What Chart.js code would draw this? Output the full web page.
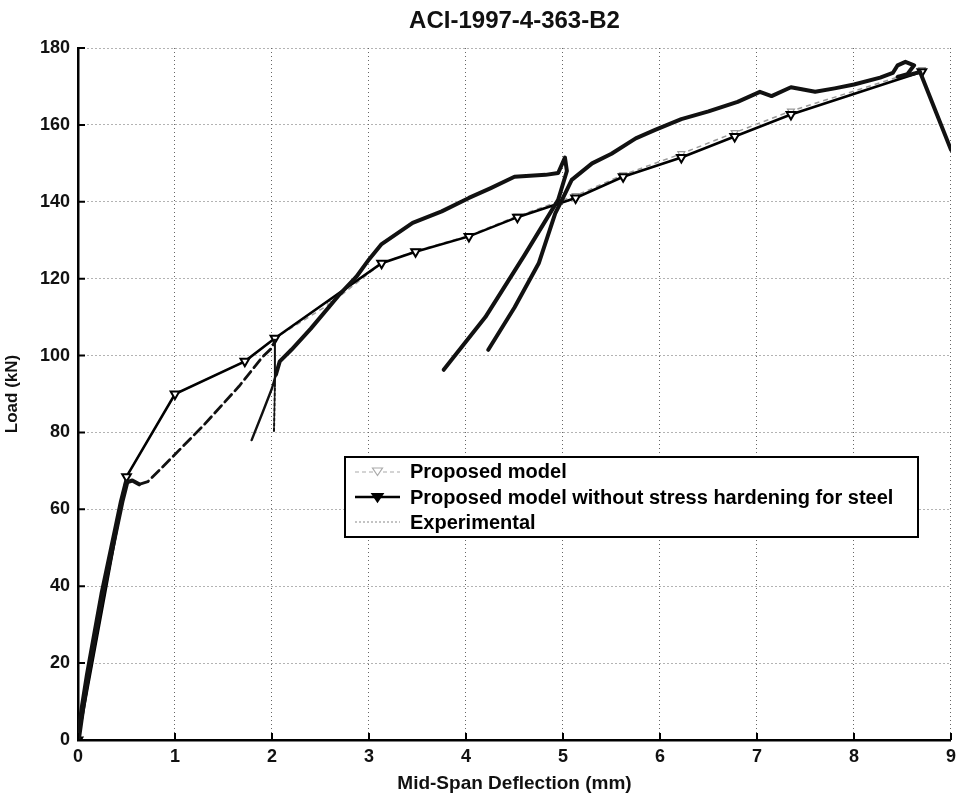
<!DOCTYPE html>
<html>
<head>
<meta charset="utf-8">
<title>ACI-1997-4-363-B2</title>
<script src="https://cdn.jsdelivr.net/npm/chart.js@4.4.1/dist/chart.umd.min.js"></script>
<style>
  html, body { margin: 0; padding: 0; background: #ffffff; }
  #wrap { width: 962px; height: 798px; position: relative; }
</style>
</head>
<body>
<div id="wrap"><canvas id="chart"></canvas></div>
<script>
// Axis ticks
const xTickValues = [0, 1, 2, 3, 4, 5, 6, 7, 8, 9];
const yTickValues = [0, 20, 40, 60, 80, 100, 120, 140, 160, 180];

// Proposed model (with stress hardening)
const modelX = [0, 0.5, 1.0, 1.72, 2.03, 2.6, 3.13, 3.48, 4.03, 4.53, 5.13, 5.62, 6.22, 6.77, 7.35, 8.7];
const modelY = [0, 68.5, 90, 98.5, 104.5, 113.5, 124, 127.2, 131.2, 136.3, 141.6, 147, 152.5, 158, 163.6, 174.4];

// Proposed model without stress hardening for steel
const noHardX = [0, 0.5, 1.0, 1.72, 2.03, 3.13, 3.48, 4.03, 4.53, 5.13, 5.62, 6.22, 6.77, 7.35, 8.7];
const noHardY = [0, 68.5, 90, 98.5, 104.5, 124, 127, 131, 136, 141, 146.5, 151.5, 157, 162.7, 173.8];

// Experimental load-deflection record (null = pen lifted between branches)
const expX = [0, 0.05, 0.1, 0.15, 0.2, 0.25, 0.3, 0.35, 0.4, 0.45, 0.5, 0.56, 0.63, 0.72, 0.95, 1.3, 1.66, 1.9, 2.0, 2.03, 2.03, 2.02, 2.02,
              1.79, 1.9, 2.0, 2.04, 2.08, 2.2, 2.4, 2.7, 2.87, 3.0, 3.13, 3.45, 3.75, 4.03, 4.25, 4.5, 4.82, 4.95, 5.02, 5.04, 4.98, 4.95, 4.6, 4.2, 3.77, 3.77,
              4.23, 4.5, 4.75, 4.92, 5.0, 5.09, 5.3, 5.5, 5.75, 5.95, 6.22, 6.5, 6.8, 7.03, 7.15, 7.35, 7.6, 7.8, 8.0, 8.27, 8.4, 8.45, 8.53, 8.62, 8.55, 8.45, 8.6, 8.68, 8.85, 9.0];
const expY = [0, 9, 17, 24, 31, 38, 44, 50, 56, 62, 67, 67.5, 66.5, 67.2, 73, 82, 92, 99.6, 102, 104, 92, 80, null,
              78, 85, 91.5, 95, 98.5, 101.5, 107, 116, 120.5, 125, 129, 134.5, 137.5, 141, 143.5, 146.5, 147, 147.5, 151.5, 148, 143, 140.5, 126, 110, 96.3, null,
              101.5, 112.5, 124, 137, 141, 145.7, 150, 152.5, 156.5, 158.7, 161.5, 163.5, 166, 168.6, 167.5, 169.8, 168.6, 169.5, 170.5, 172.3, 173.5, 175.5, 176.4, 175.5, 173.2, 172.5, 173.2, 173.8, 163, 153.5];

const toPoints = (xs, ys) => xs.map((x, i) => ({ x: x, y: ys[i] }));

const FONT = '"Liberation Sans", Arial, Helvetica, sans-serif';

// Pen style of the experimental trace: heavy initial branch, sparse dashed
// branch after cracking, thin unload/reload strokes near 2 mm.
function expWidth(i) {
  if (i < 10) return 5.5;
  if (i >= 12 && i <= 18) return 2.8;
  if (i === 19 || i === 20) return 2;
  if (i >= 23 && i <= 25) return 2.4;
  return 4;
}
function expDash(i) {
  if (i >= 12 && i <= 18) return [10, 5];
  if (i === 19 || i === 20) return [3, 2];
  return [];
}

// Short inward tick marks along the left and bottom axes
const innerTicks = {
  id: 'innerTicks',
  afterDatasetsDraw(chart) {
    const { ctx, chartArea, scales } = chart;
    ctx.save();
    ctx.strokeStyle = '#000';
    ctx.lineWidth = 2;
    ctx.beginPath();
    xTickValues.forEach(v => {
      const px = scales.x.getPixelForValue(v);
      ctx.moveTo(px, chartArea.bottom);
      ctx.lineTo(px, chartArea.bottom - 7);
    });
    yTickValues.forEach(v => {
      const py = scales.y.getPixelForValue(v);
      ctx.moveTo(chartArea.left, py);
      ctx.lineTo(chartArea.left + 7, py);
    });
    ctx.stroke();
    ctx.restore();
  }
};

function drawTriangleDown(ctx, x, y, r, stroke, fill) {
  ctx.beginPath();
  ctx.moveTo(x - r, y - r * 0.6);
  ctx.lineTo(x + r, y - r * 0.6);
  ctx.lineTo(x, y + r * 0.9);
  ctx.closePath();
  ctx.fillStyle = fill;
  ctx.fill();
  ctx.strokeStyle = stroke;
  ctx.stroke();
}

// Boxed legend placed inside the plot area
const boxLegend = {
  id: 'boxLegend',
  afterDraw(chart) {
    const { ctx } = chart;
    const labels = chart.data.datasets.map(d => d.label);
    const left = 345, top = 457, width = 573, height = 80;
    ctx.save();
    ctx.fillStyle = '#ffffff';
    ctx.fillRect(left, top, width, height);
    ctx.strokeStyle = '#000';
    ctx.lineWidth = 2;
    ctx.strokeRect(left, top, width, height);

    const rows = [471, 497, 522];
    const sx0 = left + 10, sx1 = left + 55;
    ctx.font = 'bold 20px ' + FONT;
    ctx.textBaseline = 'middle';

    // Proposed model sample
    ctx.setLineDash([4, 3]);
    ctx.lineWidth = 1.2;
    ctx.strokeStyle = '#aaa';
    ctx.beginPath(); ctx.moveTo(sx0, rows[0] + 1); ctx.lineTo(sx1, rows[0] + 1); ctx.stroke();
    ctx.setLineDash([]);
    ctx.lineWidth = 1.2;
    drawTriangleDown(ctx, (sx0 + sx1) / 2, rows[0], 5, '#aaa', '#fff');

    // Without stress hardening sample
    ctx.lineWidth = 2.5;
    ctx.strokeStyle = '#000';
    ctx.beginPath(); ctx.moveTo(sx0, rows[1]); ctx.lineTo(sx1, rows[1]); ctx.stroke();
    ctx.lineWidth = 2;
    drawTriangleDown(ctx, (sx0 + sx1) / 2, rows[1], 5, '#000', '#000');

    // Experimental sample
    ctx.setLineDash([2, 2]);
    ctx.lineWidth = 1.2;
    ctx.strokeStyle = '#888';
    ctx.beginPath(); ctx.moveTo(sx0, rows[2]); ctx.lineTo(sx1, rows[2]); ctx.stroke();
    ctx.setLineDash([]);

    ctx.fillStyle = '#000';
    labels.forEach((t, i) => ctx.fillText(t, left + 65, rows[i] + 1));
    ctx.restore();
  }
};

new Chart(document.getElementById('chart'), {
  type: 'line',
  data: {
    datasets: [
      {
        label: 'Proposed model',
        data: toPoints(modelX, modelY),
        borderColor: '#9a9a9a',
        borderWidth: 1.5,
        borderDash: [5, 4],
        pointStyle: 'triangle',
        rotation: 180,
        pointRadius: 4,
        pointBorderColor: '#9a9a9a',
        pointBackgroundColor: '#ffffff',
        pointBorderWidth: 1.2,
        tension: 0,
        order: 3
      },
      {
        label: 'Proposed model without stress hardening for steel',
        data: toPoints(noHardX, noHardY),
        borderColor: '#000000',
        borderWidth: 2.6,
        pointStyle: 'triangle',
        rotation: 180,
        pointRadius: 5,
        pointBorderColor: '#000000',
        pointBackgroundColor: '#ffffff',
        pointBorderWidth: 2,
        tension: 0,
        order: 2
      },
      {
        label: 'Experimental',
        data: toPoints(expX, expY),
        borderColor: '#111111',
        borderWidth: 4,
        pointRadius: 0,
        spanGaps: false,
        tension: 0,
        borderJoinStyle: 'round',
        borderCapStyle: 'round',
        segment: {
          borderWidth: ctx => expWidth(ctx.p0DataIndex),
          borderDash: ctx => expDash(ctx.p0DataIndex)
        },
        order: 1
      }
    ]
  },
  options: {
    responsive: true,
    maintainAspectRatio: false,
    animation: false,
    layout: { padding: { left: 0, right: 5, top: 0, bottom: 0 } },
    plugins: {
      legend: { display: false },
      tooltip: { enabled: false },
      title: {
        display: true,
        fullSize: false,
        align: 'center',
        text: 'ACI-1997-4-363-B2',
        color: '#111',
        font: { family: FONT, size: 24, weight: 'bold', lineHeight: 1.0 },
        padding: { top: 9, bottom: 15 }
      }
    },
    scales: {
      x: {
        type: 'linear',
        min: 0, max: 9,
        afterFit(scale) { scale.height = 58; },
        afterBuildTicks(scale) { scale.ticks = xTickValues.map(v => ({ value: v })); },
        ticks: {
          color: '#111',
          padding: 6,
          font: { family: FONT, size: 18, weight: 'bold' },
          maxRotation: 0
        },
        grid: {
          drawTicks: false,
          color: '#666',
          lineWidth: 1
        },
        border: { display: true, color: '#000', width: 2.5, dash: [1, 3] },
        title: {
          display: true,
          text: 'Mid-Span Deflection (mm)',
          color: '#111',
          font: { family: FONT, size: 19, weight: 'bold' },
          padding: { top: 0, bottom: 3 }
        }
      },
      y: {
        type: 'linear',
        min: 0, max: 180,
        afterFit(scale) { scale.width = 78; },
        afterBuildTicks(scale) { scale.ticks = yTickValues.map(v => ({ value: v })); },
        ticks: {
          color: '#111',
          padding: 8,
          font: { family: FONT, size: 18, weight: 'bold' }
        },
        grid: {
          drawTicks: false,
          color: '#666',
          lineWidth: 1
        },
        border: { display: true, color: '#000', width: 2.5, dash: [1, 3] },
        title: {
          display: true,
          text: 'Load (kN)',
          color: '#111',
          font: { family: FONT, size: 17, weight: 'bold' },
          padding: { top: 2, bottom: 0 }
        }
      }
    }
  },
  plugins: [innerTicks, boxLegend]
});
</script>
</body>
</html>
